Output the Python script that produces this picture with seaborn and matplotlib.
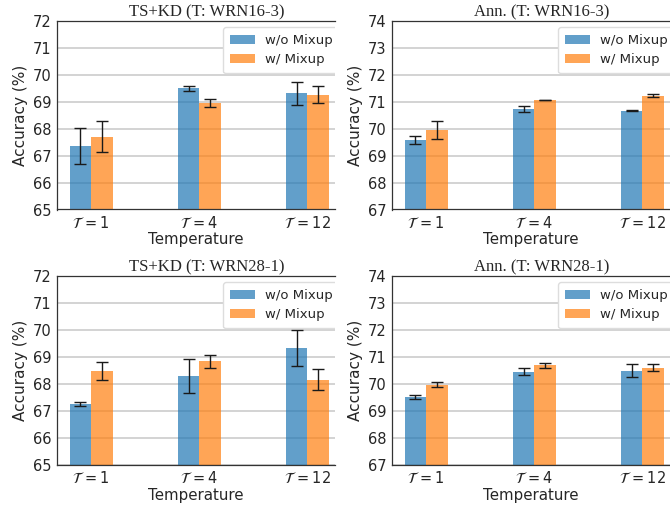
import numpy as np
import pandas as pd
import seaborn as sns
import matplotlib
matplotlib.use('Agg')
from matplotlib import pyplot as plt
from matplotlib.patches import Patch


## DADOS

temps = ['$\\mathcal{T}\\,= 1$', '$\\mathcal{T}\\,= 4$', '$\\mathcal{T}\\,= 12$']
grupos = ['w/o Mixup', 'w/ Mixup']

titulos = ['TS+KD (T: WRN16-3)', 'Ann. (T: WRN16-3)', 'TS+KD (T: WRN28-1)', 'Ann. (T: WRN28-1)']
ylims = [(65, 72), (67, 74), (65, 72), (67, 74)]

tskd16_wo = [67.35, 69.50, 69.32]
tskd16_wo_err = [0.66, 0.09, 0.43]
tskd16_w = [67.70, 68.96, 69.27]
tskd16_w_err = [0.57, 0.15, 0.33]

ann16_wo = [69.58, 70.72, 70.66]
ann16_wo_err = [0.16, 0.11, 0.02]
ann16_w = [69.96, 71.07, 71.23]
ann16_w_err = [0.33, 0.01, 0.07]

tskd28_wo = [67.26, 68.30, 69.34]
tskd28_wo_err = [0.08, 0.63, 0.67]
tskd28_w = [68.48, 68.83, 68.16]
tskd28_w_err = [0.33, 0.23, 0.40]

ann28_wo = [69.51, 70.45, 70.49]
ann28_wo_err = [0.08, 0.13, 0.25]
ann28_w = [69.97, 70.68, 70.59]
ann28_w_err = [0.10, 0.10, 0.13]

paineis = [
    (tskd16_wo, tskd16_wo_err, tskd16_w, tskd16_w_err),
    (ann16_wo, ann16_wo_err, ann16_w, ann16_w_err),
    (tskd28_wo, tskd28_wo_err, tskd28_w, tskd28_w_err),
    (ann28_wo, ann28_wo_err, ann28_w, ann28_w_err),
]

cores = ['#1f77b4', '#ff7f0e']


## FIGURA

sns.set_style('white')
plt.rcParams['font.family'] = ['DejaVu Sans']
plt.rcParams['mathtext.fontset'] = 'dejavusans'

W, H = 670, 511
fig = plt.figure(figsize=(W / 100, H / 100), dpi=100)

# posicoes em pixels (esq, topo, dir, baixo) - a direita vem cortada como no original
caixas = [(56.7, 21, 335, 209.5), (391.7, 21, 670, 209.5),
          (56.7, 276, 335, 464.7), (391.7, 276, 670, 464.7)]

for i, (wo, wo_err, w, w_err) in enumerate(paineis):
    l, t, r, b = caixas[i]
    ax = fig.add_axes([l / W, (H - b) / H, (r - l) / W, (b - t) / H])

    df = pd.DataFrame({'temp': temps * 2,
                       'acc': wo + w,
                       'mix': [grupos[0]] * 3 + [grupos[1]] * 3})
    sns.barplot(data=df, x='temp', y='acc', hue='mix', palette=cores, width=0.4,
                saturation=1, alpha=0.7, errorbar=None, linewidth=0, ax=ax)

    # barras de erro em cima das barras
    for cont, errs in zip(ax.containers, [wo_err, w_err]):
        xs = [p.get_x() + p.get_width() / 2 for p in cont]
        ys = [p.get_height() for p in cont]
        ax.errorbar(xs, ys, yerr=errs, fmt='none', ecolor='#1a1a1a',
                    elinewidth=1.0, capsize=4, capthick=1.0)

    lo, hi = ylims[i]
    ax.set_ylim(lo, hi)
    ax.set_yticks(np.arange(lo, hi + 1))
    ax.set_xlim(-0.32, 2.255)

    ax.yaxis.grid(True, color='#cccccc', lw=1.2)
    ax.set_axisbelow(True)
    for s in ['left', 'bottom', 'top']:
        ax.spines[s].set_color('#333333')
        ax.spines[s].set_linewidth(0.9)
    ax.spines['right'].set_visible(False)
    ax.tick_params(axis='both', labelsize=10.5, length=2.5, pad=1.5, color='#333333')

    ax.set_xlabel('Temperature', fontsize=10.8, labelpad=1)
    ax.set_ylabel('Accuracy (%)', fontsize=11, labelpad=3)
    ax.set_title(titulos[i], family='Liberation Serif', fontsize=12, x=0.54, pad=3)

    handles = [Patch(facecolor=c, alpha=0.7, edgecolor='none') for c in cores]
    leg = ax.legend(handles, grupos, loc='upper left', bbox_to_anchor=(0.598, 0.968),
                    borderaxespad=0, fontsize=9.5, framealpha=1, edgecolor='#dddddd',
                    fancybox=True, handlelength=1.9, borderpad=0.55,
                    handletextpad=0.7, labelspacing=0.45)
    # moldura cortada na borda do painel, como no original
    leg.get_frame().set_clip_box(ax.bbox)
    leg.get_frame().set_clip_on(True)


## SALVANDO

plt.savefig('out.png', dpi=100)
